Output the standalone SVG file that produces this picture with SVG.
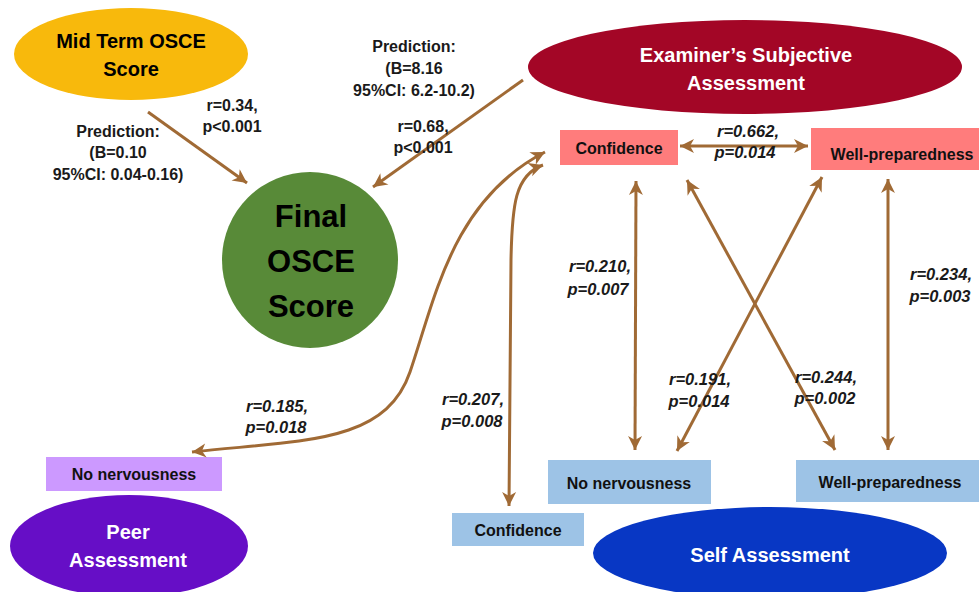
<svg xmlns="http://www.w3.org/2000/svg" width="979" height="592" viewBox="0 0 979 592">
<style>
text{font-family:"Liberation Sans",Arial,sans-serif;font-weight:bold;text-anchor:middle}
.lbl{font-size:16px;fill:#1a1a1a}
.it{font-size:16.5px;font-style:italic;fill:#1a1a1a}
.big{font-size:20px}
.w{fill:#ffffff}
.box{font-size:16px;fill:#111}
.con{fill:none;stroke:#A06A35;stroke-width:3}
</style>
<defs>
<marker id="ah" markerUnits="userSpaceOnUse" markerWidth="18" markerHeight="16" refX="15" refY="8" orient="auto-start-reverse" viewBox="0 0 18 16">
<path d="M1,1 L15,8 L1,15 L5,8 Z" fill="#A06A35"/>
</marker>
</defs>
<rect width="979" height="592" fill="#ffffff"/>

<g id="midterm">
<ellipse cx="131" cy="54" rx="117" ry="46" fill="#F8B90C"/>
<text class="big" x="131" y="48">Mid Term OSCE</text>
<text class="big" x="131" y="76">Score</text>
</g>

<g id="final">
<circle cx="310" cy="260" r="88" fill="#588A38"/>
<text x="311" y="227" font-size="31">Final</text>
<text x="311" y="272" font-size="31">OSCE</text>
<text x="311" y="317" font-size="31">Score</text>
</g>

<g id="examiner">
<ellipse cx="745" cy="67" rx="217" ry="47" fill="#A30626"/>
<text class="big w" x="746" y="62">Examiner’s Subjective</text>
<text class="big w" x="746" y="90">Assessment</text>
</g>

<g id="ex-confidence">
<rect x="560" y="130" width="118" height="35" fill="#FF7C7C"/>
<text class="box" x="619" y="154">Confidence</text>
</g>

<g id="ex-wellprep">
<rect x="811" y="128" width="168" height="42" fill="#FF7C7C"/>
<text class="box" x="902" y="160">Well-preparedness</text>
</g>

<g id="peer-nonerv">
<rect x="46" y="457" width="176" height="34" fill="#CC99FF"/>
<text class="box" x="134" y="480">No nervousness</text>
</g>

<g id="peer">
<ellipse cx="129" cy="546" rx="119" ry="51" fill="#660EC6"/>
<text class="big w" x="128" y="539">Peer</text>
<text class="big w" x="128" y="567">Assessment</text>
</g>

<g id="self-confidence">
<rect x="452" y="513" width="132" height="33" fill="#9DC3E6"/>
<text class="box" x="518" y="536">Confidence</text>
</g>

<g id="self-nonerv">
<rect x="548" y="460" width="163" height="44" fill="#9DC3E6"/>
<text class="box" x="629" y="489">No nervousness</text>
</g>

<g id="self-wellprep">
<rect x="796" y="460" width="183" height="42" fill="#9DC3E6"/>
<text class="box" x="890" y="488">Well-preparedness</text>
</g>

<g id="self">
<ellipse cx="770" cy="553" rx="177" ry="46" fill="#0837C4"/>
<text class="big w" x="770" y="562">Self Assessment</text>
</g>

<g id="connectors">
<path class="con" d="M148,112 L247,183" marker-end="url(#ah)"/>
<path class="con" d="M523,80 L373,187" marker-end="url(#ah)"/>
<path class="con" d="M680,146 L808,146" marker-start="url(#ah)" marker-end="url(#ah)"/>
<path class="con" d="M192,452 C300,440 385,445 410,372 S452,200 545,152" marker-start="url(#ah)" marker-end="url(#ah)"/>
<path class="con" d="M509,506 L511,260 C512,205 515,175 543,165" marker-start="url(#ah)" marker-end="url(#ah)"/>
<path class="con" d="M636,181 L635,450" marker-start="url(#ah)" marker-end="url(#ah)"/>
<path class="con" d="M888,179 L888,450" marker-start="url(#ah)" marker-end="url(#ah)"/>
<path class="con" d="M687,180 L835,450" marker-start="url(#ah)" marker-end="url(#ah)"/>
<path class="con" d="M822,177 L677,451" marker-start="url(#ah)" marker-end="url(#ah)"/>
</g>

<g id="labels">
<text class="lbl" x="232" y="111">r=0.34,</text>
<text class="lbl" x="232" y="132">p&lt;0.001</text>
<text class="lbl" x="118" y="137">Prediction:</text>
<text class="lbl" x="118" y="158">(B=0.10</text>
<text class="lbl" x="118" y="180">95%CI: 0.04-0.16)</text>
<text class="lbl" x="414" y="52">Prediction:</text>
<text class="lbl" x="414" y="74">(B=8.16</text>
<text class="lbl" x="414" y="96">95%CI: 6.2-10.2)</text>
<text class="lbl" x="423" y="132">r=0.68,</text>
<text class="lbl" x="423" y="153">p&lt;0.001</text>
<text class="it" x="748" y="137">r=0.662,</text>
<text class="it" x="745" y="158">p=0.014</text>
<text class="it" x="600" y="272">r=0.210,</text>
<text class="it" x="598" y="295">p=0.007</text>
<text class="it" x="941" y="280">r=0.234,</text>
<text class="it" x="940" y="302">p=0.003</text>
<text class="it" x="700" y="385">r=0.191,</text>
<text class="it" x="699" y="407">p=0.014</text>
<text class="it" x="826" y="383">r=0.244,</text>
<text class="it" x="825" y="404">p=0.002</text>
<text class="it" x="277" y="412">r=0.185,</text>
<text class="it" x="276" y="433">p=0.018</text>
<text class="it" x="473" y="405">r=0.207,</text>
<text class="it" x="472" y="427">p=0.008</text>
</g>
</svg>
